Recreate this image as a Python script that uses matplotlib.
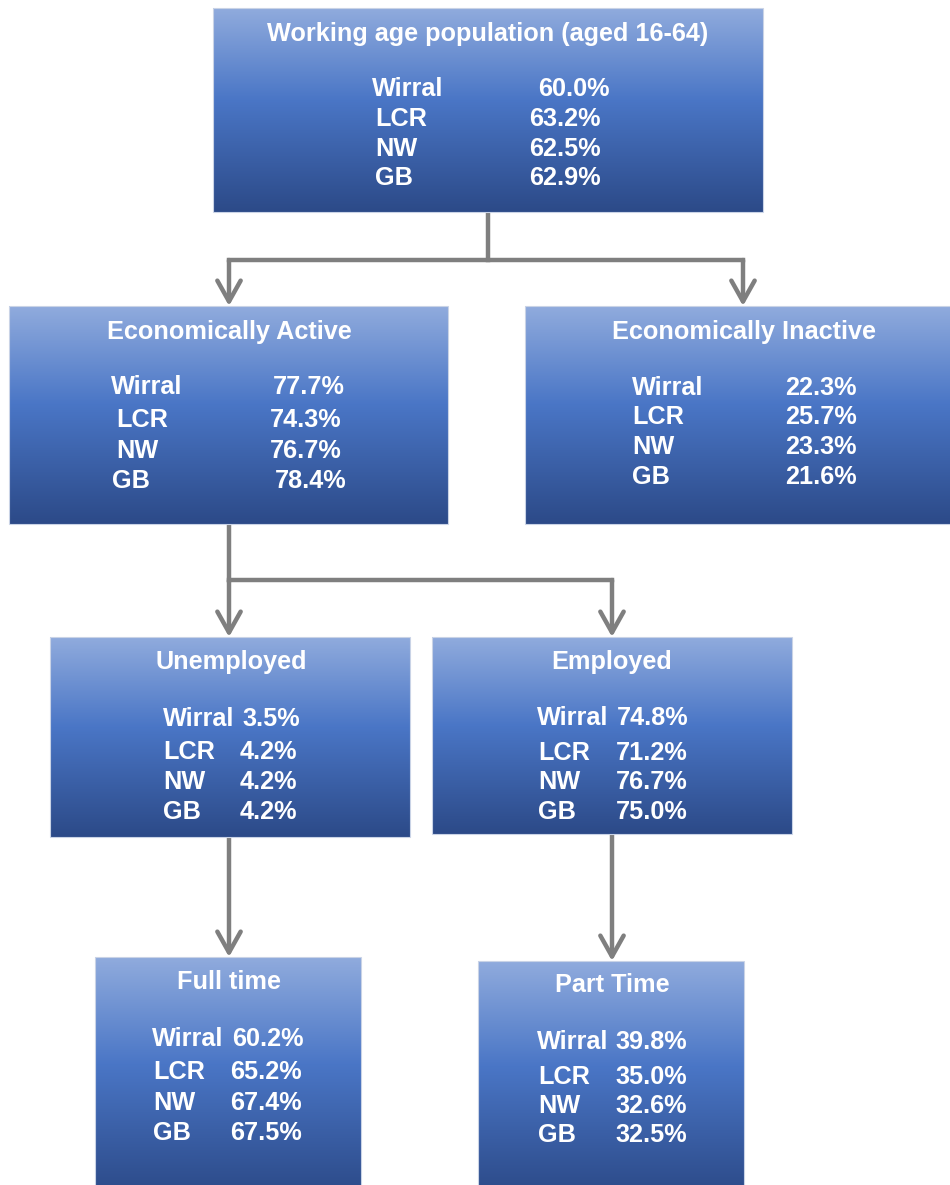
import numpy as np
import matplotlib.pyplot as plt
from matplotlib.colors import LinearSegmentedColormap
from matplotlib.patches import Rectangle

# Labour market breakdown (percentages)
areas = ['Wirral', 'LCR', 'NW', 'GB']
working_age = [60.0, 63.2, 62.5, 62.9]
econ_active = [77.7, 74.3, 76.7, 78.4]
econ_inactive = [22.3, 25.7, 23.3, 21.6]
unemployed = [3.5, 4.2, 4.2, 4.2]
employed = [74.8, 71.2, 76.7, 75.0]
full_time = [60.2, 65.2, 67.4, 67.5]
part_time = [39.8, 35.0, 32.6, 32.5]

titles = ['Working age population (aged 16-64)', 'Economically Active',
          'Economically Inactive', 'Unemployed', 'Employed', 'Full time', 'Part Time']
values = [working_age, econ_active, econ_inactive, unemployed, employed,
          full_time, part_time]

# box layout in pixels:
# (x0, y0, x1, y1, title_x, title_y, row_ys, label_xs, value_xs)
boxes = [
    (213, 8, 763, 212, 488, 32, [87, 117, 147, 176],
     [372, 375, 375, 375], [538, 529, 529, 529]),
    (9, 306, 448, 524, 229, 330, [385, 418, 449, 479],
     [111, 116, 116, 112], [273, 270, 270, 275]),
    (525, 306, 960, 524, 744, 330, [386, 415, 445, 475],
     [632, 632, 632, 632], [785, 785, 785, 785]),
    (50, 637, 410, 837, 231, 660, [717, 750, 780, 810],
     [163, 163, 163, 163], [242, 240, 240, 240]),
    (432, 637, 792, 834, 612, 660, [716, 751, 780, 810],
     [537, 538, 538, 538], [617, 616, 616, 616]),
    (95, 957, 361, 1195, 229, 980, [1037, 1070, 1101, 1131],
     [152, 153, 153, 153], [232, 230, 230, 230]),
    (478, 961, 744, 1195, 612, 983, [1040, 1075, 1104, 1133],
     [537, 538, 538, 538], [615, 615, 615, 615]),
]

cmap = LinearSegmentedColormap.from_list(
    'box', [(0.0, '#90abdd'), (0.45, '#4a76c6'), (1.0, '#2c4a88')])
grad = np.linspace(0, 1, 256).reshape(-1, 1)

fig = plt.figure(figsize=(9.5, 11.85), dpi=100)
ax = fig.add_axes([0, 0, 1, 1])
ax.set_xlim(0, 950)
ax.set_ylim(1185, 0)
ax.axis('off')

font = ['Liberation Sans', 'DejaVu Sans']
fs = 18.2
cap = 9  # half the cap height in pixels, to put text centres on the rows

for title, vals, (x0, y0, x1, y1, tx, ty, rows, lx, vx) in zip(titles, values, boxes):
    ax.imshow(grad, cmap=cmap, extent=(x0, x1, y1, y0), aspect='auto', zorder=1)
    ax.add_patch(Rectangle((x0, y0), x1 - x0, y1 - y0, fill=False,
                           edgecolor='#c9d3e6', lw=0.8, zorder=2))
    ax.text(tx, ty + cap, title, color='white', fontsize=fs, fontweight='bold',
            family=font, ha='center', va='baseline', zorder=3)
    for i, area in enumerate(areas):
        ax.text(lx[i], rows[i] + cap, area, color='white', fontsize=fs,
                fontweight='bold', family=font, ha='left', va='baseline', zorder=3)
        ax.text(vx[i], rows[i] + cap, f'{vals[i]:.1f}%', color='white', fontsize=fs,
                fontweight='bold', family=font, ha='left', va='baseline', zorder=3)

# connectors
grey = '#7f7f7f'
lw = 3.2


def line(xs, ys):
    ax.plot(xs, ys, color=grey, lw=lw, solid_capstyle='projecting', zorder=0)


def arrow(x, ya, yb):
    ax.annotate('', xy=(x, yb), xytext=(x, ya),
                arrowprops=dict(arrowstyle='->,head_length=0.75,head_width=0.42',
                                color=grey, lw=lw, mutation_scale=20,
                                shrinkA=0, shrinkB=0), zorder=0)


line([488, 488], [212, 260])
line([229, 743], [260, 260])
arrow(229, 260, 306)
arrow(743, 260, 306)

line([229, 229], [524, 580])
line([229, 612], [580, 580])
arrow(229, 580, 637)
arrow(612, 580, 637)

arrow(229, 837, 957)
arrow(612, 834, 961)

fig.savefig('out.png', dpi=100, facecolor='white')
